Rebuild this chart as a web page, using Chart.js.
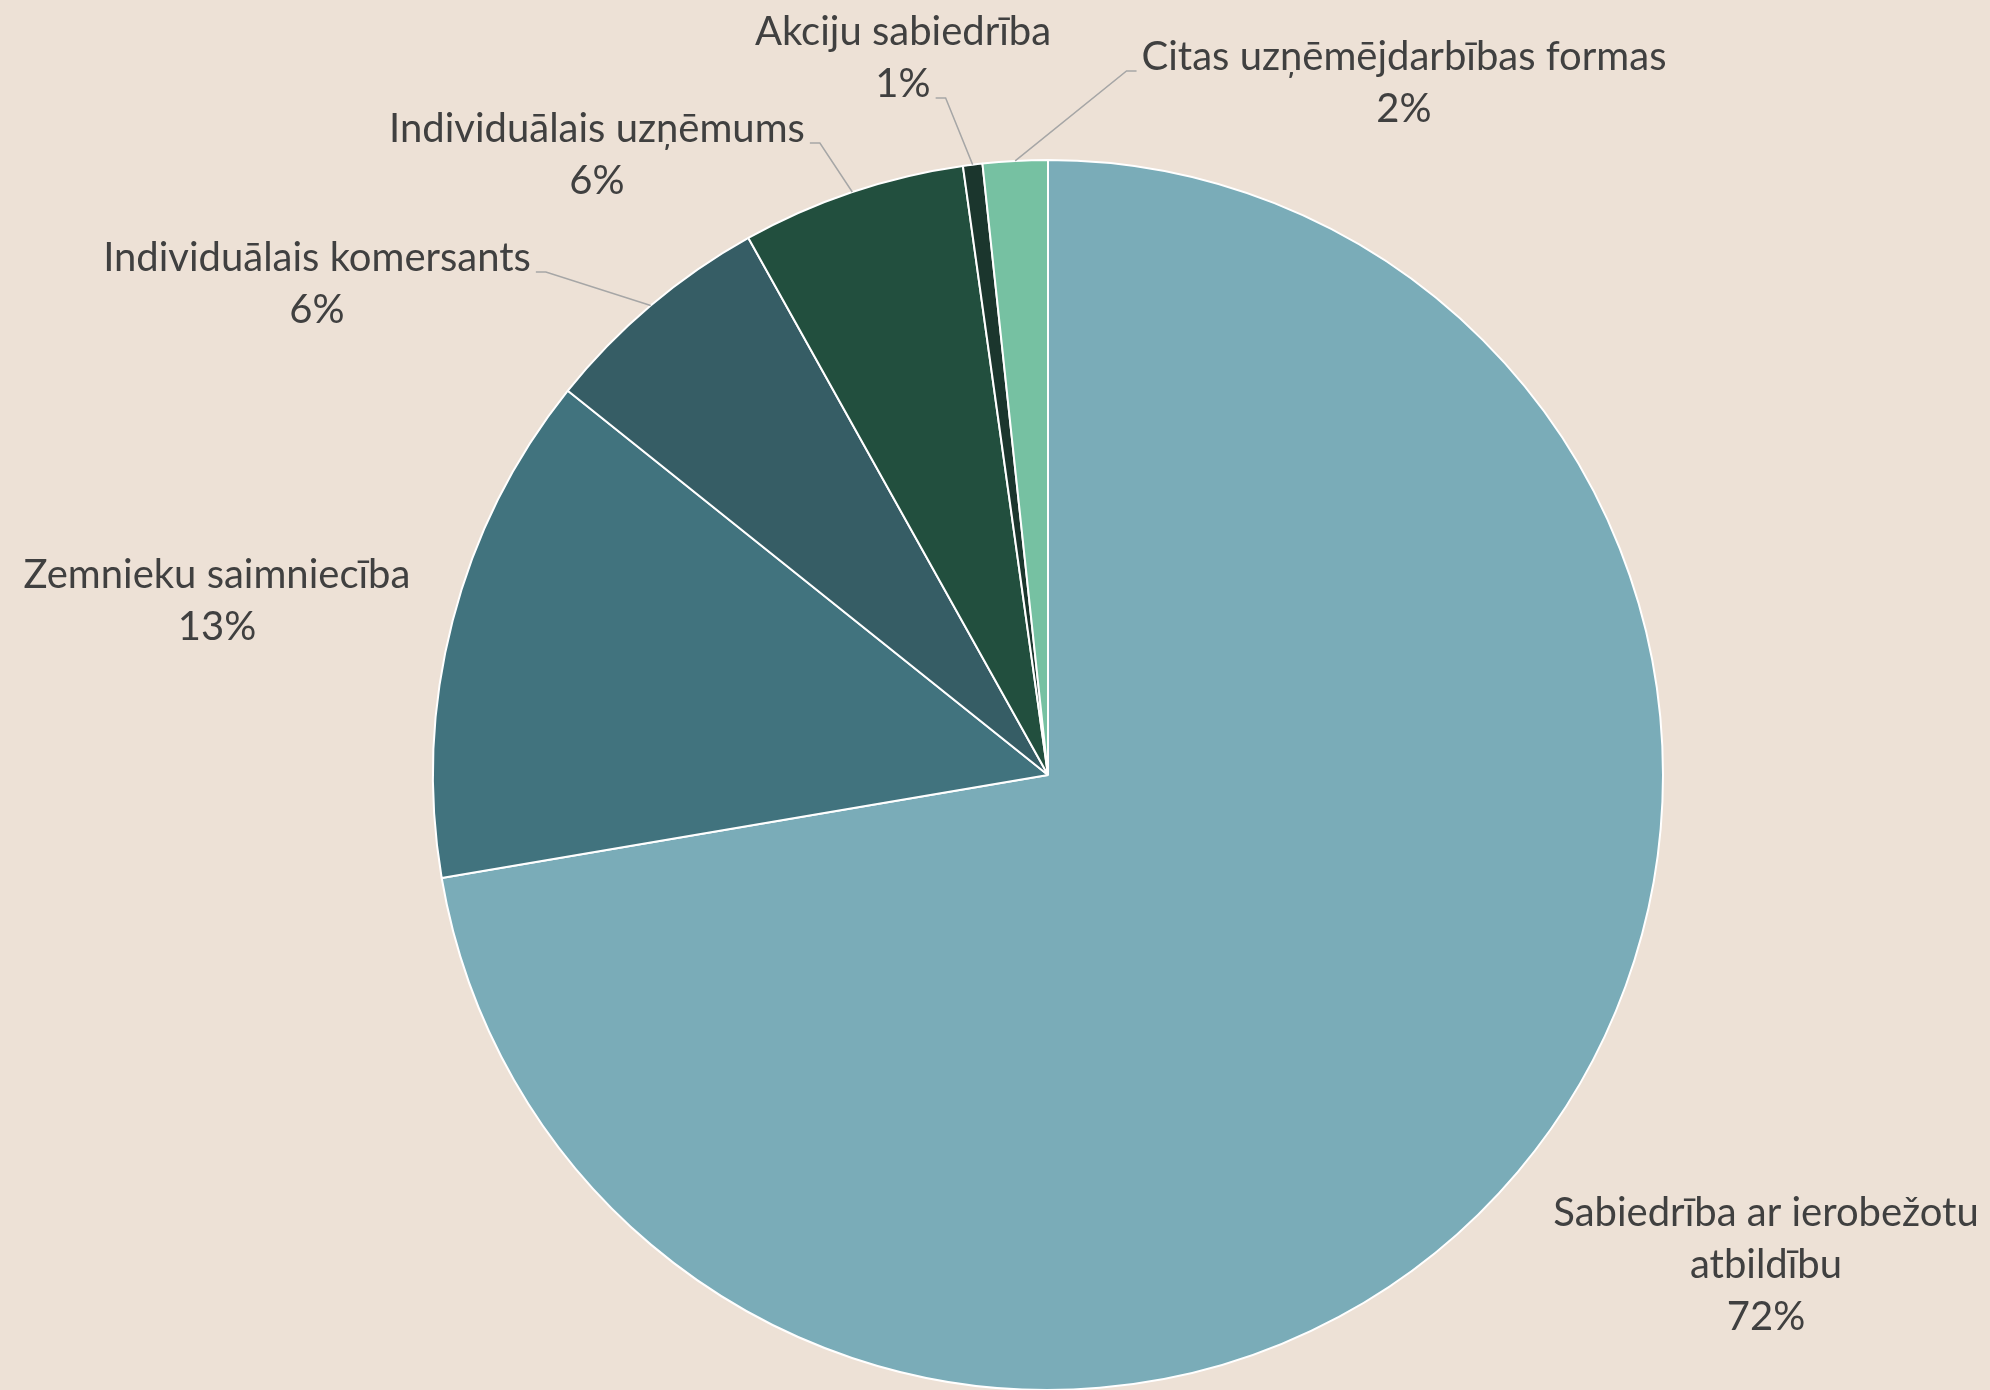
<!DOCTYPE html>
<html>
<head>
<meta charset="utf-8">
<script src="https://cdn.jsdelivr.net/npm/chart.js@4.4.1/dist/chart.umd.min.js"></script>
<style>
  html, body { margin: 0; padding: 0; background: #ede1d6; overflow: hidden; }
  #wrap { width: 1990px; height: 1390px; overflow: hidden; }
</style>
</head>
<body>
<div id="wrap"><canvas id="chartCanvas" width="1990" height="1400"></canvas></div>
<script>
// slice data, in drawing order (clockwise from 12 o'clock)
var categories = [
  'Sabiedrība ar ierobežotu atbildību',
  'Zemnieku saimniecība',
  'Individuālais komersants',
  'Individuālais uzņēmums',
  'Akciju sabiedrība',
  'Citas uzņēmējdarbības formas'
];
var labelLines = [
  ['Sabiedrība ar ierobežotu', 'atbildību'],
  ['Zemnieku saimniecība'],
  ['Individuālais komersants'],
  ['Individuālais uzņēmums'],
  ['Akciju sabiedrība'],
  ['Citas uzņēmējdarbības formas']
];
var shares = [72.33, 13.42, 6.16, 5.89, 0.51, 1.70];
var sliceColors = ['#7aacb8', '#41737e', '#365d65', '#224f3e', '#1b362d', '#76c1a2'];

// label placement relative to pie centre (text centre, first baseline) + leader line hook
var labelSpots = [
  { dx: 718, dy: 451, leader: null },
  { dx: -831, dy: -187, leader: null },
  { dx: -731, dy: -504, leader: { side: 'right', line: 0 } },
  { dx: -451, dy: -633, leader: { side: 'right', line: 0 } },
  { dx: -145, dy: -730, leader: { side: 'right', line: 1 } },
  { dx: 356, dy: -705, leader: { side: 'left', line: 0 } }
];

var FONT = '40px Lato';
var LINE_H = 52;

var outsideLabels = {
  id: 'outsideLabels',
  afterDatasetsDraw: function (chart) {
    var ctx = chart.ctx;
    var meta = chart.getDatasetMeta(0);
    var data = chart.data.datasets[0].data;
    var total = data.reduce(function (a, b) { return a + b; }, 0);
    ctx.save();
    ctx.font = FONT;
    ctx.textAlign = 'center';
    ctx.textBaseline = 'alphabetic';
    meta.data.forEach(function (arc, i) {
      var p = arc.getProps(['x', 'y', 'startAngle', 'endAngle', 'outerRadius'], true);
      var spot = labelSpots[i];
      var lines = labelLines[i].concat([Math.round(data[i] / total * 100) + '%']);
      var tx = p.x + spot.dx;
      var ty = p.y + spot.dy;

      if (spot.leader) {
        var mid = (p.startAngle + p.endAngle) / 2;
        var ex = p.x + Math.cos(mid) * p.outerRadius;
        var ey = p.y + Math.sin(mid) * p.outerRadius;
        var dir = spot.leader.side === 'right' ? 1 : -1;
        var lineW = ctx.measureText(lines[spot.leader.line]).width;
        var sx = tx + dir * (lineW / 2 + 5);
        var sy = ty + spot.leader.line * LINE_H + 1;
        ctx.beginPath();
        ctx.moveTo(sx, sy);
        ctx.lineTo(sx + dir * 10, sy);
        ctx.lineTo(ex, ey);
        ctx.strokeStyle = '#a6a6a6';
        ctx.lineWidth = 1.5;
        ctx.stroke();
      }

      ctx.fillStyle = '#404040';
      lines.forEach(function (s, k) {
        ctx.fillText(s, tx, ty + k * LINE_H);
      });
    });
    ctx.restore();
  }
};

function build() {
  var ctx = document.getElementById('chartCanvas').getContext('2d');
  new Chart(ctx, {
    type: 'pie',
    data: {
      labels: categories,
      datasets: [{
        data: shares,
        backgroundColor: sliceColors,
        borderColor: '#ffffff',
        borderWidth: 2
      }]
    },
    options: {
      responsive: false,
      animation: false,
      layout: { padding: { left: 432, right: 326, top: 159, bottom: 9 } },
      plugins: {
        legend: { display: false },
        tooltip: { enabled: false }
      }
    },
    plugins: [outsideLabels]
  });
}

if (document.fonts && document.fonts.load) {
  document.fonts.load(FONT).then(build, build);
} else {
  build();
}
</script>
</body>
</html>
